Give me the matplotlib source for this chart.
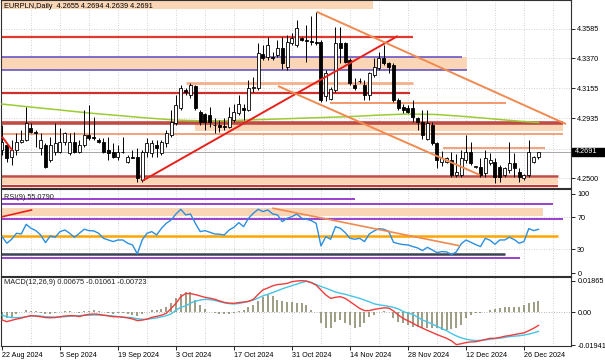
''' EURPLN daily chart with RSI(9) and MACD(12,26,9) panels, MT4 style. '''

import numpy as np
import matplotlib.pyplot as plt
from matplotlib.patches import Rectangle

plt.rcParams['font.family'] = ['Liberation Sans', 'DejaVu Sans']

W, H = 605, 363
BAR_PX = 4.833   # pixels per daily bar
X0_PX = 2.0      # pixel of first bar

TITLE = "EURPLN,Daily  4.2655 4.2694 4.2639 4.2691"
RSI_TITLE = "RSI(9) 55.0790"
MACD_TITLE = "MACD(12,26,9) 0.00675 -0.01061 -0.00723"

DATE_BARS = [0, 12, 24, 36, 48, 60, 72, 84, 96, 108]
DATE_LABELS = ['22 Aug 2024', '5 Sep 2024', '19 Sep 2024', '3 Oct 2024', '17 Oct 2024',
               '31 Oct 2024', '14 Nov 2024', '28 Nov 2024', '12 Dec 2024', '26 Dec 2024']

PRICE_TICKS = [4.3585, 4.3370, 4.3155, 4.2935, 4.2715, 4.2500]
HIDDEN_TICK = 4.2715   # sits behind the current price box
RSI_TICKS = [100, 70, 30, 0]
MACD_TICKS = [0.01865, 0.0, -0.01941]
MACD_TICK_LABELS = ['0.01865', '0.00', '-0.01941']

OPEN = [4.2705, 4.2742, 4.2657, 4.2705, 4.2766, 4.2778, 4.2863, 4.2839, 4.2717, 4.2742,
        4.2633, 4.2693, 4.2693, 4.2766, 4.2681, 4.2766, 4.2693, 4.2742, 4.2814, 4.2802,
        4.2778, 4.2766, 4.2705, 4.2693, 4.2657, 4.2693, 4.2621, 4.2657, 4.2657, 4.2488,
        4.2693, 4.2681, 4.2742, 4.2681, 4.2754, 4.2814, 4.2898, 4.3007, 4.3140, 4.3104,
        4.3169, 4.2983, 4.2966, 4.2959, 4.2886, 4.2886, 4.2879, 4.2874, 4.2922, 4.2971,
        4.3007, 4.2995, 4.3152, 4.3152, 4.3399, 4.3382, 4.3382, 4.3394, 4.3443, 4.3310,
        4.3479, 4.3467, 4.3515, 4.3505, 4.3495, 4.3490, 4.3491, 4.3100, 4.3075, 4.3140,
        4.3479, 4.3479, 4.3358, 4.3177, 4.3207, 4.3177, 4.3104, 4.3249, 4.3298, 4.3370,
        4.3334, 4.3322, 4.3068, 4.3019, 4.3007, 4.3007, 4.2935, 4.2910, 4.2789, 4.2886,
        4.2754, 4.2620, 4.2620, 4.2633, 4.2524, 4.2524, 4.2633, 4.2694, 4.2585, 4.2585,
        4.2536, 4.2609, 4.2621, 4.2585, 4.2524, 4.2560, 4.2609, 4.2548, 4.2500, 4.2524,
        4.2621, 4.2655]
HIGH = [4.2887, 4.2754, 4.2778, 4.2826, 4.2851, 4.3020, 4.2899, 4.2851, 4.2826, 4.2754,
        4.2802, 4.2899, 4.2863, 4.2839, 4.2826, 4.2839, 4.2778, 4.2996, 4.3032, 4.2947,
        4.2790, 4.2790, 4.2802, 4.2754, 4.2742, 4.2802, 4.2669, 4.2705, 4.2717, 4.2705,
        4.2790, 4.2778, 4.2778, 4.2778, 4.2851, 4.2995, 4.3104, 4.3177, 4.3152, 4.3189,
        4.3177, 4.2995, 4.2971, 4.3019, 4.2935, 4.2922, 4.2935, 4.3019, 4.3043, 4.3104,
        4.3043, 4.3213, 4.3237, 4.3479, 4.3467, 4.3527, 4.3419, 4.3503, 4.3527, 4.3540,
        4.3552, 4.3648, 4.3527, 4.3612, 4.3680, 4.3708, 4.3503, 4.3285, 4.3160, 4.3600,
        4.3600, 4.3491, 4.3370, 4.3225, 4.3225, 4.3213, 4.3273, 4.3370, 4.3419, 4.3467,
        4.3346, 4.3334, 4.3080, 4.3043, 4.3031, 4.3068, 4.2947, 4.2995, 4.2995, 4.2910,
        4.2766, 4.2700, 4.2657, 4.2690, 4.2680, 4.2706, 4.2815, 4.2766, 4.2592, 4.2645,
        4.2706, 4.2681, 4.2645, 4.2597, 4.2585, 4.2766, 4.2681, 4.2573, 4.2530, 4.2778,
        4.2665, 4.2694]
LOW = [4.2669, 4.2621, 4.2597, 4.2669, 4.2754, 4.2772, 4.2826, 4.2730, 4.2669, 4.2572,
       4.2621, 4.2669, 4.2681, 4.2742, 4.2669, 4.2681, 4.2681, 4.2730, 4.2778, 4.2778,
       4.2754, 4.2681, 4.2633, 4.2645, 4.2633, 4.2681, 4.2609, 4.2645, 4.2476, 4.2476,
       4.2657, 4.2657, 4.2657, 4.2669, 4.2730, 4.2802, 4.2886, 4.2995, 4.3104, 4.3080,
       4.2995, 4.2886, 4.2850, 4.2874, 4.2826, 4.2838, 4.2850, 4.2862, 4.2910, 4.2959,
       4.2922, 4.2990, 4.3128, 4.3140, 4.3358, 4.3358, 4.3358, 4.3382, 4.3297, 4.3285,
       4.3467, 4.3455, 4.3497, 4.3346, 4.3470, 4.3470, 4.3056, 4.3060, 4.3065, 4.3128,
       4.3334, 4.3334, 4.3177, 4.3140, 4.3189, 4.3068, 4.3068, 4.3237, 4.3285, 4.3322,
       4.3261, 4.3056, 4.2995, 4.2971, 4.2971, 4.2910, 4.2850, 4.2789, 4.2777, 4.2741,
       4.2572, 4.2590, 4.2610, 4.2512, 4.2512, 4.2512, 4.2609, 4.2597, 4.2578, 4.2512,
       4.2512, 4.2597, 4.2464, 4.2476, 4.2512, 4.2536, 4.2512, 4.2476, 4.2490, 4.2512,
       4.2615, 4.2639]
CLOSE = [4.2766, 4.2645, 4.2705, 4.2766, 4.2778, 4.2899, 4.2839, 4.2827, 4.2778, 4.2585,
         4.2742, 4.2754, 4.2766, 4.2826, 4.2766, 4.2693, 4.2742, 4.2814, 4.2790, 4.2790,
         4.2766, 4.2693, 4.2681, 4.2657, 4.2693, 4.2690, 4.2657, 4.2648, 4.2500, 4.2693,
         4.2754, 4.2754, 4.2717, 4.2766, 4.2826, 4.2910, 4.3031, 4.3152, 4.3130, 4.3177,
         4.3007, 4.2910, 4.2910, 4.2910, 4.2884, 4.2874, 4.2869, 4.2947, 4.2983, 4.3043,
         4.2995, 4.3152, 4.3164, 4.3406, 4.3370, 4.3467, 4.3375, 4.3443, 4.3334, 4.3491,
         4.3515, 4.3588, 4.3503, 4.3495, 4.3491, 4.3484, 4.3068, 4.3265, 4.3150, 4.3479,
         4.3443, 4.3346, 4.3189, 4.3152, 4.3205, 4.3104, 4.3261, 4.3310, 4.3370, 4.3334,
         4.3310, 4.3068, 4.3007, 4.2995, 4.2983, 4.2947, 4.2910, 4.2814, 4.2898, 4.2753,
         4.2633, 4.2645, 4.2645, 4.2524, 4.2548, 4.2645, 4.2694, 4.2609, 4.2587, 4.2524,
         4.2645, 4.2633, 4.2512, 4.2512, 4.2573, 4.2609, 4.2573, 4.2512, 4.2524, 4.2694,
         4.2657, 4.2691]

# moving average read every 6 bars
MA_BARS = [0, 6, 12, 18, 24, 30, 36, 42, 48, 54, 60, 66, 72, 78, 84, 90, 96, 102, 108, 111]
MA_VALUES = [4.3039, 4.3017, 4.2996, 4.2974, 4.2956, 4.2938, 4.2923, 4.2916, 4.2920, 4.2927,
             4.2934, 4.2941, 4.2948, 4.2959, 4.2967, 4.2963, 4.2948, 4.2930, 4.2912, 4.2905]

RSI = [46.0, 37.6, 42.6, 50.1, 49.3, 61.4, 56.4, 53.5, 48.0, 38.4,
       46.8, 45.1, 52.2, 54.3, 50.1, 45.1, 50.1, 55.2, 53.5, 53.1,
       50.1, 43.8, 41.7, 39.7, 41.7, 41.7, 37.6, 35.5, 24.2, 41.7,
       50.1, 52.2, 48.0, 56.4, 62.7, 66.9, 74.4, 80.3, 73.2, 74.4,
       62.7, 52.2, 53.5, 51.4, 49.3, 48.9, 48.0, 54.3, 57.7, 63.5,
       58.5, 69.0, 75.3, 80.3, 77.4, 79.5, 74.4, 73.2, 64.8, 69.0,
       71.1, 74.4, 69.0, 67.7, 66.0, 62.7, 34.2, 45.9, 42.6, 58.5,
       56.4, 51.0, 43.8, 42.6, 43.8, 39.7, 49.3, 53.1, 56.0, 55.2,
       52.6, 38.8, 37.1, 35.9, 35.5, 33.4, 31.7, 28.3, 32.5, 29.2,
       25.8, 27.1, 26.7, 23.3, 26.7, 36.7, 41.7, 38.8, 35.9, 33.4,
       43.8, 41.3, 36.3, 41.7, 41.7, 45.1, 42.2, 37.6, 39.7, 56.0,
       53.5, 55.08]

MACD_HIST = [-0.0045, -0.0035, -0.0025, -0.0012, 0.0004, 0.0012, 0.0010, 0.0006, -0.0006, -0.0012,
             -0.0010, -0.0006, 0.0002, 0.0006, 0.0005, 0.0001, -0.0002, 0.0005, 0.0010, 0.0012,
             0.0008, 0.0000, -0.0004, -0.0008, -0.0006, -0.0004, -0.0008, -0.0014, -0.0022, -0.0012,
             0.0002, 0.0012, 0.0016, 0.0022, 0.0030, 0.0053, 0.0082, 0.0110, 0.0121, 0.0118,
             0.0072, 0.0043, 0.0018, 0.0004, -0.0006, -0.0010, -0.0012, -0.0008, -0.0002, 0.0008,
             0.0016, 0.0030, 0.0043, 0.0065, 0.0090, 0.0100, 0.0095, 0.0075, 0.0065, 0.0063,
             0.0060, 0.0053, 0.0052, 0.0043, 0.0014, 0.0000, -0.0065, -0.0094, -0.0094, -0.0055,
             -0.0045, -0.0065, -0.0075, -0.0094, -0.0085, -0.0065, -0.0026, -0.0016, 0.0004, 0.0008,
             0.0002, -0.0035, -0.0055, -0.0065, -0.0075, -0.0084, -0.0084, -0.0094, -0.0094, -0.0094,
             -0.0094, -0.0104, -0.0104, -0.0100, -0.0094, -0.0075, -0.0035, -0.0016, -0.0006, -0.0002,
             0.0004, 0.0014, 0.0018, 0.0024, 0.0030, 0.0034, 0.0034, 0.0030, 0.0043, 0.0053,
             0.0060, 0.00675]
MACD_MAIN = [-0.0045, -0.0055, -0.0047, -0.0040, -0.0034, -0.0026, -0.0020, -0.0022, -0.0026, -0.0031,
             -0.0032, -0.0031, -0.0026, -0.0022, -0.0020, -0.0020, -0.0025, -0.0017, -0.0012, -0.0010,
             -0.0012, -0.0017, -0.0021, -0.0026, -0.0026, -0.0029, -0.0033, -0.0039, -0.0049, -0.0046,
             -0.0040, -0.0030, -0.0024, -0.0017, -0.0006, 0.0023, 0.0053, 0.0092, 0.0110, 0.0110,
             0.0104, 0.0096, 0.0088, 0.0083, 0.0077, 0.0067, 0.0058, 0.0054, 0.0053, 0.0057,
             0.0060, 0.0064, 0.0076, 0.0105, 0.0132, 0.0143, 0.0156, 0.0163, 0.0166, 0.0170,
             0.0180, 0.0184, 0.0186, 0.0184, 0.0174, 0.0160, 0.0131, 0.0102, 0.0082, 0.0088,
             0.0092, 0.0082, 0.0063, 0.0043, 0.0023, 0.0010, 0.0010, 0.0017, 0.0022, 0.0026,
             0.0025, 0.0008, -0.0016, -0.0036, -0.0050, -0.0064, -0.0080, -0.0093, -0.0106, -0.0118,
             -0.0131, -0.0142, -0.0153, -0.0168, -0.0190, -0.0185, -0.0178, -0.0174, -0.0173, -0.0167,
             -0.0160, -0.0153, -0.0153, -0.0148, -0.0141, -0.0137, -0.0131, -0.0126, -0.0121, -0.0108,
             -0.0094, -0.0077]
MACD_SIGNAL = [-0.0016, -0.0026, -0.0031, -0.0032, -0.0030, -0.0026, -0.0022, -0.0021, -0.0022, -0.0026,
               -0.0027, -0.0028, -0.0027, -0.0026, -0.0023, -0.0021, -0.0020, -0.0018, -0.0017, -0.0016,
               -0.0016, -0.0017, -0.0020, -0.0022, -0.0025, -0.0028, -0.0030, -0.0032, -0.0038, -0.0041,
               -0.0041, -0.0037, -0.0033, -0.0027, -0.0020, -0.0009, 0.0012, 0.0030, 0.0037, 0.0054,
               0.0065, 0.0072, 0.0076, 0.0075, 0.0070, 0.0063, 0.0056, 0.0051, 0.0049, 0.0052,
               0.0058, 0.0065, 0.0072, 0.0084, 0.0097, 0.0106, 0.0116, 0.0127, 0.0138, 0.0148,
               0.0157, 0.0166, 0.0175, 0.0182, 0.0176, 0.0163, 0.0152, 0.0142, 0.0131, 0.0119,
               0.0112, 0.0106, 0.0098, 0.0090, 0.0082, 0.0072, 0.0062, 0.0050, 0.0044, 0.0040,
               0.0035, 0.0029, 0.0020, 0.0005, -0.0005, -0.0012, -0.0029, -0.0045, -0.0057, -0.0069,
               -0.0082, -0.0096, -0.0108, -0.0125, -0.0139, -0.0150, -0.0158, -0.0163, -0.0166, -0.0165,
               -0.0162, -0.0159, -0.0155, -0.0152, -0.0148, -0.0143, -0.0140, -0.0138, -0.0134, -0.0128,
               -0.0121, -0.0112]

# drawn objects on the price panel
LEVELS = [4.3528, 4.3380, 4.3288, 4.3189, 4.3121, 4.3049, 4.2903, 4.2821, 4.2718, 4.2517, 4.2442]
ZONES = [(4.3732, 4.3800), (4.3288, 4.3380), (4.2843, 4.2894), (4.2462, 4.2506)]
TREND_BARS = [(0.0, 2.2), (29.1, 81.9), (65.1, 116.7), (57.1, 98.9)]
TREND_PRICES = [(4.2802, 4.2700), (4.2483, 4.3533), (4.3709, 4.2894), (4.3170, 4.2524)]

# drawn objects on the RSI panel
RSI_LEVELS = [92.9, 86.6, 68.1, 47.1, 24.1, 19.4]
RSI_ZONE = (71.9, 81.9)
RSI_TREND_BARS = [(0.1, 6.1), (56.1, 94.6)]
RSI_TREND_VALUES = [(71.0, 79.4), (81.6, 34.5)]


def px_bar(x):
    return (x - X0_PX) / BAR_PX


def fig_rect(x0, y0, x1, y1):
    return [x0 / W, 1 - y1 / H, (x1 - x0) / W, (y1 - y0) / H]


def style_axis(ax):
    ax.set_xlim(px_bar(1), px_bar(571))
    for s in ax.spines.values():
        s.set_color('#303030')
        s.set_linewidth(0.8)
    ax.yaxis.tick_right()
    ax.tick_params(axis='y', length=3, width=0.6, pad=1.5, labelsize=5.2, colors='black')
    for b in range(6, 118, 6):
        ax.axvline(b, color='#c4c4c4', lw=0.6, ls=(0, (1, 2)), zorder=0)


fig = plt.figure(figsize=(W / 100, H / 100), dpi=100)
ax = fig.add_axes(fig_rect(1, 0, 571, 188))
ax_rsi = fig.add_axes(fig_rect(1, 189, 571, 276))
ax_macd = fig.add_axes(fig_rect(1, 277, 571, 346))
for a in (ax, ax_rsi, ax_macd):
    style_axis(a)

# ---- price panel
ax.set_ylim(4.2430, 4.3794)
ax.set_yticks(PRICE_TICKS)
ax.set_yticklabels(['' if p == HIDDEN_TICK else f"{p:.4f}" for p in PRICE_TICKS])
ax.set_xticks([])
for p in PRICE_TICKS:
    ax.axhline(p, color='#c4c4c4', lw=0.6, ls=(0, (1, 2)), zorder=0)

x_left = px_bar(1)
zone_ext = [(x_left, px_bar(373)), (x_left, px_bar(467)), (px_bar(195), px_bar(563)), (x_left, px_bar(558))]
for (lo, hi), (xs, xe) in zip(ZONES, zone_ext):
    ax.add_patch(Rectangle((xs, lo), xe - xs, hi - lo, color='#fbd6b6', lw=0, zorder=1))

level_style = [
    (x_left, px_bar(413), '#e23b2e', 1.6),
    (x_left, px_bar(462), '#6656c8', 1.2),
    (x_left, px_bar(467), '#6656c8', 1.2),
    (px_bar(186), px_bar(413), '#f6b08c', 2.0),
    (x_left, px_bar(410), '#d0302a', 1.6),
    (px_bar(330), px_bar(506), '#f29060', 1.3),
    (x_left, px_bar(563), '#c04a44', 2.6),
    (x_left, px_bar(563), '#f2a27c', 1.4),
    (px_bar(443), px_bar(545), '#f2a27c', 1.4),
    (x_left, px_bar(558), '#c04a44', 1.8),
    (x_left, px_bar(558), '#c8382f', 1.6),
]
for lev, (xs, xe, col, lw) in zip(LEVELS, level_style):
    ax.hlines(lev, xs, xe, colors=col, lw=lw, zorder=2)

ax.axhline(CLOSE[-1], color='#a8a8a8', lw=0.7, zorder=2)
ax.plot(MA_BARS, MA_VALUES, color='#9acd32', lw=1.1, zorder=3)

o, h, l, c = map(np.array, (OPEN, HIGH, LOW, CLOSE))
idx = np.arange(len(c))
ax.vlines(idx, l, h, color='black', lw=0.7, zorder=4)
body_lo = np.minimum(o, c)
body_h = np.maximum(np.abs(c - o), 0.00008)
face = np.where(c >= o, 'white', 'black')
ax.bar(idx, body_h, bottom=body_lo, width=0.62, color=face, edgecolor='black', linewidth=0.6, zorder=5)

trend_cols = ['#e8201a', '#e8201a', '#f08a50', '#f08a50']
for (b0, b1), (p0, p1), col in zip(TREND_BARS, TREND_PRICES, trend_cols):
    ax.plot([b0, b1], [p0, p1], color=col, lw=1.4, zorder=6, solid_capstyle='butt')

# ---- RSI panel
ax_rsi.set_ylim(-3.6, 105.8)
ax_rsi.set_yticks(RSI_TICKS)
ax_rsi.set_yticklabels([str(v) for v in RSI_TICKS])
ax_rsi.set_xticks([])
for v in (70, 30):
    ax_rsi.axhline(v, color='#c4c4c4', lw=0.6, ls=(0, (1, 2)), zorder=0)
ax_rsi.add_patch(Rectangle((x_left, RSI_ZONE[0]), px_bar(543) - x_left, RSI_ZONE[1] - RSI_ZONE[0],
                           color='#fbd6b6', lw=0, zorder=1))
rsi_style = [
    (px_bar(355), '#9b3fd0', 1.4),
    (px_bar(553), '#9b3fd0', 1.4),
    (px_bar(563), '#9b3fd0', 1.4),
    (px_bar(558), '#ffa500', 1.8),
    (px_bar(505), '#3c4450', 1.8),
    (px_bar(520), '#9b3fd0', 1.4),
]
for lev, (xe, col, lw) in zip(RSI_LEVELS, rsi_style):
    ax_rsi.hlines(lev, x_left, xe, colors=col, lw=lw, zorder=2)
ax_rsi.plot(idx, RSI, color='#2b8fe0', lw=1.0, zorder=3)
for (b0, b1), (v0, v1), col in zip(RSI_TREND_BARS, RSI_TREND_VALUES, ['#e8201a', '#f08a50']):
    ax_rsi.plot([b0, b1], [v0, v1], color=col, lw=1.2, zorder=4)

# ---- MACD panel
ax_macd.set_ylim(-0.01982, 0.02076)
ax_macd.set_yticks(MACD_TICKS)
ax_macd.set_yticklabels(MACD_TICK_LABELS)
ax_macd.axhline(0, color='#a0a0a0', lw=0.6, ls=(0, (1, 2)), zorder=0)
ax_macd.vlines(idx, 0, MACD_HIST, color='#8c8c70', lw=1.2, zorder=2)
ax_macd.plot(idx, MACD_SIGNAL, color='#45c4e6', lw=1.0, zorder=3)
ax_macd.plot(idx, MACD_MAIN, color='#f03c3c', lw=1.0, zorder=4)
ax_macd.set_xticks(DATE_BARS)
ax_macd.set_xticklabels(DATE_LABELS, ha='left')
ax_macd.tick_params(axis='x', length=3, width=0.6, pad=1.5, labelsize=5.2, colors='black')

# ---- texts
fig.text(4 / W, 1 - 7 / H, TITLE, fontsize=5.3, va='center', ha='left', color='black')
fig.text(4 / W, 1 - 197 / H, RSI_TITLE, fontsize=5.3, va='center', ha='left', color='#202020')
fig.text(4 / W, 1 - 282 / H, MACD_TITLE, fontsize=5.3, va='center', ha='left', color='#202020')

fig.add_artist(Rectangle((572 / W, 1 - 156 / H), 33 / W, 8.5 / H, transform=fig.transFigure,
                         color='black', zorder=5))
fig.text(575 / W, 1 - 151.7 / H, f"{CLOSE[-1]:.4f}", fontsize=5.2, va='center', ha='left',
         color='white', zorder=6)

fig.savefig('out.png', dpi=100)
